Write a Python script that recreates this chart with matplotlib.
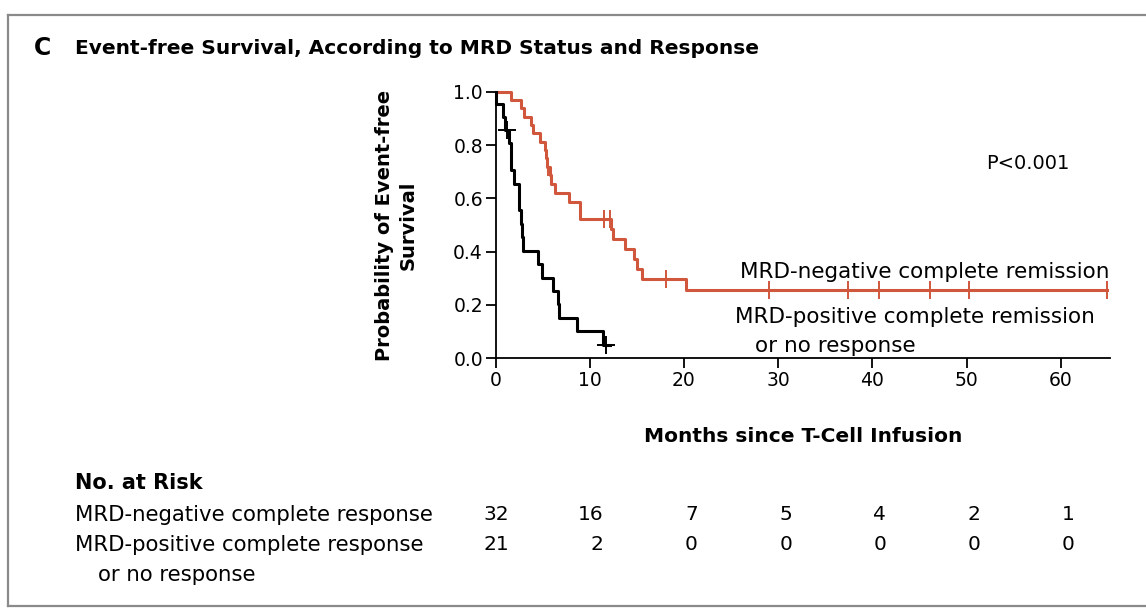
import matplotlib
matplotlib.use("Agg")
import matplotlib.pyplot as plt
from matplotlib.lines import Line2D

# ---------------- data ----------------
# MRD-negative complete remission (red)
neg_times = [0, 1.65, 2.74, 3.0, 3.73, 3.98, 4.69, 5.3, 5.4, 5.45, 5.75, 5.9, 6.28,
             7.8, 8.93, 9.0, 12.3, 12.5, 13.7, 14.7, 15.0, 15.5, 20.2, 64.9]
neg_surv = [1.0, 0.969, 0.938, 0.906, 0.875, 0.844, 0.813, 0.781, 0.750, 0.719, 0.686,
            0.654, 0.621, 0.588, 0.556, 0.523, 0.486, 0.448, 0.411, 0.374, 0.336,
            0.299, 0.256, 0.256]
neg_cens_t = [5.57, 11.55, 12.15, 18.1, 29.0, 37.4, 40.7, 46.1, 50.2, 64.9]
neg_cens_s = [0.719, 0.523, 0.523, 0.299, 0.256, 0.256, 0.256, 0.256, 0.256, 0.256]

# MRD-positive complete remission or no response (black)
pos_times = [0, 0.1, 0.8, 1.0, 1.4, 1.6, 1.65, 2.0, 2.45, 2.5, 2.75, 2.8, 2.95,
             4.5, 4.9, 6.1, 6.6, 6.7, 8.6, 11.4, 12.1]
pos_surv = [1.0, 0.952, 0.905, 0.857, 0.807, 0.756, 0.706, 0.655, 0.605, 0.555,
            0.504, 0.454, 0.403, 0.353, 0.302, 0.252, 0.202, 0.151, 0.101, 0.050, 0.050]
pos_cens_t = [1.2, 11.7]
pos_cens_s = [0.857, 0.050]

x_ticks = [0, 10, 20, 30, 40, 50, 60]
y_ticks = [0.0, 0.2, 0.4, 0.6, 0.8, 1.0]
y_tick_labels = ["0.0", "0.2", "0.4", "0.6", "0.8", "1.0"]

risk_times = [0, 10, 20, 30, 40, 50, 60]
risk_neg = [32, 16, 7, 5, 4, 2, 1]
risk_pos = [21, 2, 0, 0, 0, 0, 0]

RED = "#d0573c"
W, H = 1146, 613

plt.rcParams['font.family'] = ['DejaVu Sans']

fig = plt.figure(figsize=(W / 100, H / 100), dpi=100)
fig.patch.set_facecolor("white")

def fx(px):
    return px / W

def fy(py):
    return 1 - py / H

# frame lines
fig.add_artist(Line2D([fx(8), fx(1146)], [fy(15), fy(15)], color="#8a8a8a", lw=1.6))
fig.add_artist(Line2D([fx(8), fx(8)], [fy(15), fy(606)], color="#8a8a8a", lw=1.6))
fig.add_artist(Line2D([fx(8), fx(1146)], [fy(606), fy(606)], color="#8a8a8a", lw=1.6))

ax = fig.add_axes([fx(495.5), fy(358.3), (1110 - 495.5) / W, 266.6 / H])
ax.step(neg_times, neg_surv, where="post", color=RED, lw=2.2, clip_on=False, zorder=3)
ax.step(pos_times, pos_surv, where="post", color="black", lw=2.2, clip_on=False, zorder=4)
ax.plot(neg_cens_t, neg_cens_s, ls="none", marker="|", ms=13, mew=1.4, color=RED,
        clip_on=False, zorder=3)
ax.plot(pos_cens_t, pos_cens_s, ls="none", marker="+", ms=13, mew=1.4, color="black",
        clip_on=False, zorder=4)

ax.set_xlim(0, 65.2)
ax.set_ylim(0, 1.0)
ax.set_xticks(x_ticks)
ax.set_yticks(y_ticks)
ax.set_yticklabels(y_tick_labels)
for s in ["top", "right"]:
    ax.spines[s].set_visible(False)
for s in ["left", "bottom"]:
    ax.spines[s].set_linewidth(1.3)
ax.tick_params(direction="out", length=7, width=1.3, labelsize=13.5, pad=2)

ax.set_xlabel("Months since T-Cell Infusion", fontsize=14.5, fontweight="bold", labelpad=27)
ax.set_ylabel("Probability of Event-free\nSurvival", fontsize=14, fontweight="bold",
              labelpad=26, linespacing=1.3)

ax.text(0.867, 0.73, "P<0.001", transform=ax.transAxes, fontsize=14, ha="center", va="center")
ax.text(65.2, 0.325, "MRD-negative complete remission", fontsize=15.5, ha="right", va="center")
ax.text(63.6, 0.155, "MRD-positive complete remission", fontsize=15.5, ha="right", va="center")
ax.text(27.5, 0.045, "or no response", fontsize=15.5, ha="left", va="center")

# title
fig.text(fx(34), fy(48), "C", fontsize=17, fontweight="bold", va="center", ha="left")
fig.text(fx(75), fy(48), "Event-free Survival, According to MRD Status and Response",
         fontsize=14.5, fontweight="bold", va="center", ha="left")

# risk table
fig.text(fx(75), fy(483), "No. at Risk", fontsize=15, fontweight="bold", va="center", ha="left")
fig.text(fx(75), fy(515), "MRD-negative complete response", fontsize=15.3, va="center", ha="left")
fig.text(fx(75), fy(545), "MRD-positive complete response", fontsize=15.3, va="center", ha="left")
fig.text(fx(98), fy(575), "or no response", fontsize=15.3, va="center", ha="left")

for t, n1, n2 in zip(risk_times, risk_neg, risk_pos):
    xp = 495.5 + (t + 1.45) * 9.43
    fig.text(fx(xp), fy(515), str(n1), fontsize=14.5, va="center", ha="right")
    fig.text(fx(xp), fy(545), str(n2), fontsize=14.5, va="center", ha="right")

fig.savefig("out.png", dpi=100, facecolor="white")
